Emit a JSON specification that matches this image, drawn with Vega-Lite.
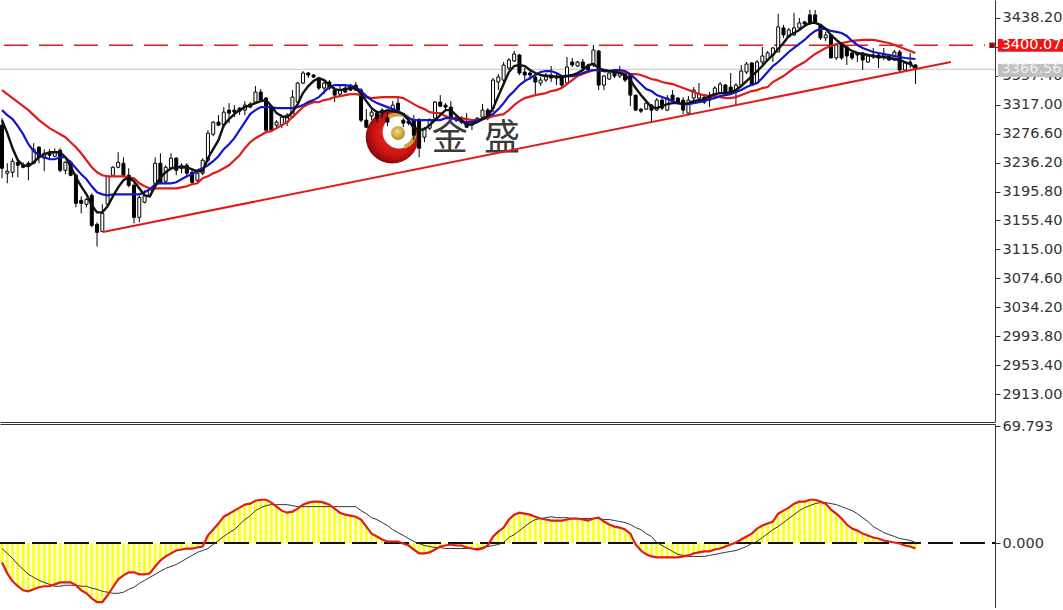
{"$schema":"https://vega.github.io/schema/vega-lite/v6.json","padding":{"left":-3,"top":0,"right":0,"bottom":0},"background":"white","spacing":2,"bounds":"flush","config":{"view":{"stroke":null},"axis":{"grid":false,"title":null,"labelFont":"DejaVu Sans","labelFontSize":14.5,"labelColor":"#333333","domainColor":"#333333","tickColor":"#333333","tickSize":5,"labelPadding":2,"labelOverlap":false,"labelBound":false,"labelFlush":false}},
"datasets":{"bars":[
{"i":0,"o":3288.5,"h":3298.3,"l":3214.3,"c":3228.3,"f":3295.5,"m":3309.5,"s":3337.5,"d":-11.6,"g":-3.3},
{"i":1,"o":3221.3,"h":3235.3,"l":3207.3,"c":3224.1,"f":3277.3,"m":3302.5,"s":3331.9,"d":-18.1,"g":-6.2},
{"i":2,"o":3222.7,"h":3242.3,"l":3215.7,"c":3238.1,"f":3256.3,"m":3296.9,"s":3326.3,"d":-22.9,"g":-9.2},
{"i":3,"o":3236.7,"h":3240.9,"l":3215.7,"c":3232.5,"f":3239.5,"m":3287.1,"s":3320.7,"d":-25.8,"g":-12.8},
{"i":4,"o":3232.5,"h":3236.7,"l":3228.3,"c":3229.7,"f":3232.5,"m":3275.9,"s":3315.1,"d":-28.2,"g":-15.7},
{"i":5,"o":3235.3,"h":3238.1,"l":3211.5,"c":3232.5,"f":3231.1,"m":3261.9,"s":3309.5,"d":-28.8,"g":-18.7},
{"i":6,"o":3235.3,"h":3263.3,"l":3233.9,"c":3254.9,"f":3236.7,"m":3252.1,"s":3302.5,"d":-27.6,"g":-20.5},
{"i":7,"o":3257.7,"h":3259.1,"l":3235.3,"c":3243.7,"f":3243.7,"m":3246.5,"s":3295.5,"d":-26.4,"g":-22.3},
{"i":8,"o":3242.3,"h":3254.9,"l":3224.1,"c":3249.3,"f":3247.9,"m":3243.7,"s":3289.9,"d":-25.8,"g":-23.5},
{"i":9,"o":3250.7,"h":3254.9,"l":3242.3,"c":3246.5,"f":3250.7,"m":3240.9,"s":3284.3,"d":-25.8,"g":-24.7},
{"i":10,"o":3245.1,"h":3256.3,"l":3243.7,"c":3250.7,"f":3250.7,"m":3240.9,"s":3280.1,"d":-24.7,"g":-25.8},
{"i":11,"o":3253.5,"h":3256.3,"l":3222.7,"c":3225.5,"f":3250.7,"m":3243.7,"s":3275.9,"d":-23.5,"g":-25.8},
{"i":12,"o":3225.5,"h":3238.1,"l":3219.9,"c":3236.7,"f":3243.7,"m":3243.7,"s":3271.7,"d":-23.5,"g":-25.2},
{"i":13,"o":3236.7,"h":3239.5,"l":3217.1,"c":3218.5,"f":3231.1,"m":3236.7,"s":3264.7,"d":-23.5,"g":-25.2},
{"i":14,"o":3218.5,"h":3221.3,"l":3173.7,"c":3179.3,"f":3215.7,"m":3228.3,"s":3257.7,"d":-25.2,"g":-25.2},
{"i":15,"o":3183.5,"h":3189.1,"l":3165.3,"c":3179.3,"f":3203.1,"m":3219.9,"s":3249.3,"d":-28.2,"g":-25.8},
{"i":16,"o":3177.9,"h":3186.3,"l":3173.7,"c":3184.9,"f":3191.9,"m":3212.9,"s":3239.5,"d":-30,"g":-25.8},
{"i":17,"o":3190.5,"h":3193.3,"l":3145.7,"c":3148.5,"f":3176.5,"m":3203.1,"s":3229.7,"d":-33,"g":-27},
{"i":18,"o":3149.9,"h":3152.7,"l":3119.1,"c":3138.7,"f":3166.7,"m":3194.7,"s":3222.7,"d":-35.3,"g":-27.6},
{"i":19,"o":3140.1,"h":3177.9,"l":3138.7,"c":3165.3,"f":3166.7,"m":3191.9,"s":3218.5,"d":-35.3,"g":-28.8},
{"i":20,"o":3177.9,"h":3217.1,"l":3176.5,"c":3217.1,"f":3175.1,"m":3190.5,"s":3217.1,"d":-31.2,"g":-29.4},
{"i":21,"o":3218.5,"h":3231.1,"l":3217.1,"c":3229.7,"f":3189.1,"m":3191.9,"s":3217.1,"d":-26.4,"g":-30},
{"i":22,"o":3229.7,"h":3250.7,"l":3228.3,"c":3236.7,"f":3201.7,"m":3191.9,"s":3217.1,"d":-21.7,"g":-30},
{"i":23,"o":3235.3,"h":3243.7,"l":3215.7,"c":3218.5,"f":3211.5,"m":3191.9,"s":3217.1,"d":-19.3,"g":-29.4},
{"i":24,"o":3218.5,"h":3228.3,"l":3201.7,"c":3204.5,"f":3215.7,"m":3191.9,"s":3215.7,"d":-17.5,"g":-27.6},
{"i":25,"o":3204.5,"h":3207.3,"l":3151.3,"c":3159.7,"f":3210.1,"m":3191.9,"s":3214.3,"d":-17.5,"g":-26.4},
{"i":26,"o":3159.7,"h":3190.5,"l":3152.7,"c":3187.7,"f":3200.3,"m":3191.9,"s":3207.3,"d":-18.7,"g":-24.1},
{"i":27,"o":3180.7,"h":3197.5,"l":3179.3,"c":3190.5,"f":3190.5,"m":3194.7,"s":3203.1,"d":-18.7,"g":-22.3},
{"i":28,"o":3190.5,"h":3201.7,"l":3189.1,"c":3198.9,"f":3189.1,"m":3198.9,"s":3200.3,"d":-18.1,"g":-20.5},
{"i":29,"o":3207.3,"h":3243.7,"l":3200.3,"c":3235.3,"f":3203.1,"m":3205.9,"s":3200.3,"d":-14,"g":-18.7},
{"i":30,"o":3235.3,"h":3249.3,"l":3205.9,"c":3208.7,"f":3215.7,"m":3207.3,"s":3200.3,"d":-10.4,"g":-16.9},
{"i":31,"o":3210.1,"h":3232.5,"l":3205.9,"c":3229.7,"f":3222.7,"m":3207.3,"s":3200.3,"d":-8,"g":-15.1},
{"i":32,"o":3228.3,"h":3249.3,"l":3225.5,"c":3242.3,"f":3228.3,"m":3207.3,"s":3200.3,"d":-6.2,"g":-14},
{"i":33,"o":3242.3,"h":3243.7,"l":3218.5,"c":3225.5,"f":3229.7,"m":3208.7,"s":3200.3,"d":-4.5,"g":-12.8},
{"i":34,"o":3228.3,"h":3235.3,"l":3221.3,"c":3232.5,"f":3229.7,"m":3212.9,"s":3201.7,"d":-3.9,"g":-11},
{"i":35,"o":3232.5,"h":3235.3,"l":3217.1,"c":3221.3,"f":3229.7,"m":3217.1,"s":3203.1,"d":-3.3,"g":-9.2},
{"i":36,"o":3222.7,"h":3225.5,"l":3205.9,"c":3208.7,"f":3226.9,"m":3219.9,"s":3205.9,"d":-3.3,"g":-7.4},
{"i":37,"o":3211.5,"h":3222.7,"l":3207.3,"c":3221.3,"f":3224.1,"m":3225.5,"s":3207.3,"d":-2.7,"g":-5.6},
{"i":38,"o":3221.3,"h":3242.3,"l":3218.5,"c":3239.5,"f":3224.1,"m":3228.3,"s":3214.3,"d":-2.1,"g":-4.5},
{"i":39,"o":3239.5,"h":3281.5,"l":3236.7,"c":3277.3,"f":3242.3,"m":3232.5,"s":3217.1,"d":4.5,"g":-3.3},
{"i":40,"o":3275.9,"h":3294.1,"l":3273.1,"c":3292.7,"f":3254.9,"m":3238.1,"s":3221.3,"d":8,"g":-0.9},
{"i":41,"o":3292.7,"h":3302.5,"l":3287.1,"c":3288.5,"f":3267.5,"m":3245.1,"s":3224.1,"d":11.6,"g":1.5},
{"i":42,"o":3288.5,"h":3313.7,"l":3284.3,"c":3306.7,"f":3288.5,"m":3254.9,"s":3228.3,"d":15.7,"g":3.9},
{"i":43,"o":3309.5,"h":3319.3,"l":3291.3,"c":3305.3,"f":3296.9,"m":3261.9,"s":3232.5,"d":17.5,"g":6.2},
{"i":44,"o":3309.5,"h":3316.5,"l":3299.7,"c":3306.7,"f":3303.9,"m":3270.3,"s":3239.5,"d":19.3,"g":8},
{"i":45,"o":3312.3,"h":3313.7,"l":3302.5,"c":3308.1,"f":3309.5,"m":3281.5,"s":3246.5,"d":21.1,"g":11},
{"i":46,"o":3309.5,"h":3322.1,"l":3302.5,"c":3316.5,"f":3313.7,"m":3292.7,"s":3256.3,"d":22.9,"g":14},
{"i":47,"o":3317.9,"h":3320.7,"l":3312.3,"c":3313.7,"f":3316.5,"m":3303.9,"s":3264.7,"d":23.5,"g":16.3},
{"i":48,"o":3320.7,"h":3343.1,"l":3319.3,"c":3334.7,"f":3319.3,"m":3309.5,"s":3270.3,"d":25.2,"g":19.3},
{"i":49,"o":3334.7,"h":3338.9,"l":3320.7,"c":3323.5,"f":3322.1,"m":3313.7,"s":3274.5,"d":25.8,"g":21.1},
{"i":50,"o":3326.3,"h":3327.7,"l":3280.1,"c":3281.5,"f":3323.5,"m":3313.7,"s":3278.7,"d":25.8,"g":22.3},
{"i":51,"o":3313.7,"h":3315.1,"l":3281.5,"c":3281.5,"f":3315.1,"m":3313.7,"s":3280.1,"d":24.1,"g":22.9},
{"i":52,"o":3288.5,"h":3295.5,"l":3285.7,"c":3292.7,"f":3305.3,"m":3312.3,"s":3284.3,"d":21.7,"g":22.9},
{"i":53,"o":3288.5,"h":3301.1,"l":3284.3,"c":3299.7,"f":3301.1,"m":3312.3,"s":3288.5,"d":19.3,"g":22.9},
{"i":54,"o":3292.7,"h":3305.3,"l":3287.1,"c":3302.5,"f":3299.7,"m":3312.3,"s":3292.7,"d":18.1,"g":22.9},
{"i":55,"o":3299.7,"h":3337.5,"l":3298.3,"c":3327.7,"f":3306.7,"m":3312.3,"s":3299.7,"d":18.7,"g":22.3},
{"i":56,"o":3320.7,"h":3348.7,"l":3319.3,"c":3347.3,"f":3317.9,"m":3313.7,"s":3306.7,"d":20.5,"g":21.7},
{"i":57,"o":3347.3,"h":3364.1,"l":3345.9,"c":3361.3,"f":3333.3,"m":3316.5,"s":3313.7,"d":22.9,"g":21.7},
{"i":58,"o":3361.3,"h":3362.7,"l":3354.3,"c":3358.5,"f":3343.1,"m":3320.7,"s":3317.9,"d":24.1,"g":21.7},
{"i":59,"o":3358.5,"h":3359.9,"l":3354.3,"c":3355.7,"f":3350.1,"m":3323.5,"s":3320.7,"d":24.7,"g":21.7},
{"i":60,"o":3354.3,"h":3355.7,"l":3337.5,"c":3340.3,"f":3354.3,"m":3327.7,"s":3320.7,"d":24.7,"g":21.7},
{"i":61,"o":3340.3,"h":3351.5,"l":3331.9,"c":3347.3,"f":3351.5,"m":3334.7,"s":3323.5,"d":24.1,"g":21.7},
{"i":62,"o":3348.7,"h":3351.5,"l":3337.5,"c":3340.3,"f":3344.5,"m":3341.7,"s":3324.9,"d":22.9,"g":21.7},
{"i":63,"o":3337.5,"h":3341.7,"l":3320.7,"c":3330.5,"f":3338.9,"m":3344.5,"s":3327.7,"d":20.5,"g":21.7},
{"i":64,"o":3331.9,"h":3343.1,"l":3329.1,"c":3337.5,"f":3337.5,"m":3344.5,"s":3329.1,"d":18.1,"g":21.7},
{"i":65,"o":3340.3,"h":3343.1,"l":3333.3,"c":3334.7,"f":3338.9,"m":3344.5,"s":3330.5,"d":16.9,"g":21.7},
{"i":66,"o":3344.5,"h":3345.9,"l":3336.1,"c":3337.5,"f":3340.3,"m":3343.1,"s":3331.9,"d":16.3,"g":21.7},
{"i":67,"o":3344.5,"h":3348.7,"l":3336.1,"c":3337.5,"f":3340.3,"m":3341.7,"s":3331.9,"d":15.7,"g":21.7},
{"i":68,"o":3337.5,"h":3340.3,"l":3292.7,"c":3295.5,"f":3331.9,"m":3336.1,"s":3330.5,"d":14,"g":19.3},
{"i":69,"o":3295.5,"h":3310.9,"l":3284.3,"c":3285.7,"f":3322.1,"m":3329.1,"s":3327.7,"d":9.8,"g":17.5},
{"i":70,"o":3301.1,"h":3310.9,"l":3295.5,"c":3306.7,"f":3312.3,"m":3323.5,"s":3326.3,"d":5.6,"g":15.1},
{"i":71,"o":3305.3,"h":3309.5,"l":3292.7,"c":3298.3,"f":3306.7,"m":3319.3,"s":3327,"d":3.9,"g":14},
{"i":72,"o":3309.5,"h":3312.3,"l":3298.3,"c":3305.3,"f":3306.7,"m":3316.5,"s":3327.7,"d":2.1,"g":12.2},
{"i":73,"o":3298.3,"h":3306.7,"l":3287.1,"c":3292.7,"f":3309.5,"m":3313.7,"s":3327.7,"d":0.9,"g":10.4},
{"i":74,"o":3310.9,"h":3322.1,"l":3306.7,"c":3316.5,"f":3308.1,"m":3310.9,"s":3327.7,"d":0.9,"g":8},
{"i":75,"o":3319.3,"h":3326.3,"l":3306.7,"c":3309.5,"f":3306.7,"m":3308.1,"s":3327.7,"d":0.9,"g":6.2},
{"i":76,"o":3295.5,"h":3298.3,"l":3285.7,"c":3291.3,"f":3303.9,"m":3303.9,"s":3326.3,"d":-0.3,"g":4.5},
{"i":77,"o":3294.1,"h":3295.5,"l":3288.5,"c":3291.3,"f":3295.5,"m":3298.3,"s":3322.1,"d":-1.5,"g":2.7},
{"i":78,"o":3295.5,"h":3302.5,"l":3267.5,"c":3274.5,"f":3284.3,"m":3295.5,"s":3317.9,"d":-3.9,"g":0.9},
{"i":79,"o":3295.5,"h":3298.3,"l":3243.7,"c":3256.3,"f":3281.5,"m":3295.5,"s":3313.7,"d":-6.2,"g":-0.3},
{"i":80,"o":3271.7,"h":3285.7,"l":3264.7,"c":3284.3,"f":3282.9,"m":3295.5,"s":3310.9,"d":-6.2,"g":-1.5},
{"i":81,"o":3284.3,"h":3298.3,"l":3281.5,"c":3295.5,"f":3288.5,"m":3295.5,"s":3306.7,"d":-5.6,"g":-2.1},
{"i":82,"o":3298.3,"h":3322.1,"l":3295.5,"c":3320.7,"f":3295.5,"m":3295.5,"s":3305.3,"d":-3.9,"g":-2.7},
{"i":83,"o":3320.7,"h":3330.5,"l":3313.7,"c":3315.1,"f":3302.5,"m":3295.5,"s":3305.3,"d":-2.1,"g":-2.7},
{"i":84,"o":3316.5,"h":3319.3,"l":3310.9,"c":3313.7,"f":3309.5,"m":3298.3,"s":3301.1,"d":-1.5,"g":-3.3},
{"i":85,"o":3313.7,"h":3322.1,"l":3296.9,"c":3299.7,"f":3309.5,"m":3298.3,"s":3298.3,"d":-0.9,"g":-3.3},
{"i":86,"o":3299.7,"h":3302.5,"l":3292.7,"c":3295.5,"f":3302.5,"m":3296.9,"s":3298.3,"d":-1.5,"g":-3.3},
{"i":87,"o":3292.7,"h":3301.1,"l":3289.9,"c":3298.3,"f":3295.5,"m":3294.1,"s":3298.3,"d":-1.5,"g":-3.3},
{"i":88,"o":3292.7,"h":3305.3,"l":3284.3,"c":3285.7,"f":3288.5,"m":3292.7,"s":3296.9,"d":-2.7,"g":-3.3},
{"i":89,"o":3288.5,"h":3295.5,"l":3281.5,"c":3292.7,"f":3289.9,"m":3292.7,"s":3295.5,"d":-3.3,"g":-3.3},
{"i":90,"o":3295.5,"h":3299.7,"l":3292.7,"c":3298.3,"f":3292.7,"m":3295.5,"s":3295.5,"d":-3.9,"g":-3.3},
{"i":91,"o":3299.7,"h":3317.9,"l":3295.5,"c":3309.5,"f":3296.9,"m":3296.9,"s":3296.9,"d":-3.3,"g":-2.7},
{"i":92,"o":3309.5,"h":3312.3,"l":3295.5,"c":3298.3,"f":3301.1,"m":3301.1,"s":3298.3,"d":-1.5,"g":-2.1},
{"i":93,"o":3312.3,"h":3354.3,"l":3306.7,"c":3351.5,"f":3312.3,"m":3303.9,"s":3301.1,"d":3.9,"g":-1.5},
{"i":94,"o":3348.7,"h":3359.9,"l":3337.5,"c":3355.7,"f":3329.1,"m":3310.9,"s":3302.5,"d":6.8,"g":-0.9},
{"i":95,"o":3351.5,"h":3376.7,"l":3348.7,"c":3372.5,"f":3345.9,"m":3319.3,"s":3303.9,"d":9.2,"g":0.3},
{"i":96,"o":3368.3,"h":3382.3,"l":3365.5,"c":3379.5,"f":3362.7,"m":3329.1,"s":3309.5,"d":14,"g":3.3},
{"i":97,"o":3378.1,"h":3392.1,"l":3376.7,"c":3387.9,"f":3371.1,"m":3336.1,"s":3316.5,"d":16.9,"g":5},
{"i":98,"o":3386.5,"h":3387.9,"l":3358.5,"c":3361.3,"f":3372.5,"m":3344.5,"s":3322.1,"d":18.1,"g":7.4},
{"i":99,"o":3362.7,"h":3368.3,"l":3348.7,"c":3358.5,"f":3371.1,"m":3350.1,"s":3326.3,"d":17.5,"g":9.8},
{"i":100,"o":3361.3,"h":3365.5,"l":3351.5,"c":3358.5,"f":3365.5,"m":3354.3,"s":3328.4,"d":16.9,"g":12.2},
{"i":101,"o":3355.7,"h":3361.3,"l":3330.5,"c":3348.7,"f":3361.3,"m":3358.5,"s":3330.5,"d":15.7,"g":14},
{"i":102,"o":3347.3,"h":3355.7,"l":3343.1,"c":3351.5,"f":3358.5,"m":3362.7,"s":3331.9,"d":14.6,"g":14.6},
{"i":103,"o":3351.5,"h":3361.3,"l":3348.7,"c":3358.5,"f":3357.1,"m":3364.1,"s":3333.3,"d":14,"g":15.1},
{"i":104,"o":3358.5,"h":3371.1,"l":3348.7,"c":3354.3,"f":3357.1,"m":3364.1,"s":3336.1,"d":13.4,"g":15.7},
{"i":105,"o":3354.3,"h":3362.7,"l":3344.5,"c":3357.1,"f":3355.7,"m":3361.3,"s":3337.5,"d":13.4,"g":15.1},
{"i":106,"o":3355.7,"h":3358.5,"l":3341.7,"c":3344.5,"f":3355.7,"m":3357.1,"s":3340.3,"d":13.4,"g":15.1},
{"i":107,"o":3347.3,"h":3383.7,"l":3344.5,"c":3369.7,"f":3357.1,"m":3357.1,"s":3345.9,"d":14,"g":15.1},
{"i":108,"o":3376.7,"h":3382.3,"l":3369.7,"c":3372.5,"f":3358.5,"m":3357.1,"s":3351.5,"d":14.6,"g":14.6},
{"i":109,"o":3371.1,"h":3378.1,"l":3369.7,"c":3376.7,"f":3361.3,"m":3358.5,"s":3357.1,"d":14.6,"g":14.6},
{"i":110,"o":3376.7,"h":3380.9,"l":3366.9,"c":3368.3,"f":3365.5,"m":3361.3,"s":3359.9,"d":14,"g":14.6},
{"i":111,"o":3371.1,"h":3373.9,"l":3361.3,"c":3365.5,"f":3372.5,"m":3364.1,"s":3362.7,"d":13.4,"g":14.6},
{"i":112,"o":3373.9,"h":3400.5,"l":3369.7,"c":3393.5,"f":3373.9,"m":3365.5,"s":3364.8,"d":14.6,"g":14.6},
{"i":113,"o":3392.1,"h":3393.5,"l":3337.5,"c":3344.5,"f":3368.3,"m":3365.5,"s":3365.5,"d":15.1,"g":14.6},
{"i":114,"o":3344.5,"h":3358.5,"l":3337.5,"c":3357.1,"f":3365.5,"m":3364.1,"s":3364.1,"d":12.8,"g":14},
{"i":115,"o":3352.9,"h":3364.1,"l":3351.5,"c":3361.3,"f":3364.1,"m":3364.1,"s":3364.1,"d":11,"g":14},
{"i":116,"o":3361.3,"h":3366.9,"l":3354.3,"c":3357.1,"f":3362.7,"m":3365.5,"s":3364.1,"d":9.8,"g":13.4},
{"i":117,"o":3357.1,"h":3371.1,"l":3354.3,"c":3362.7,"f":3361.3,"m":3365.5,"s":3363.4,"d":9.2,"g":12.8},
{"i":118,"o":3361.3,"h":3362.7,"l":3348.7,"c":3351.5,"f":3358.5,"m":3364.1,"s":3361.3,"d":8,"g":12.2},
{"i":119,"o":3358.5,"h":3358.5,"l":3315.1,"c":3330.5,"f":3351.5,"m":3359.9,"s":3359.9,"d":5.6,"g":11},
{"i":120,"o":3330.5,"h":3330.5,"l":3308.1,"c":3309.5,"f":3340.3,"m":3352.9,"s":3359.9,"d":-0.9,"g":9.2},
{"i":121,"o":3310.9,"h":3312.3,"l":3305.3,"c":3308.1,"f":3330.5,"m":3345.9,"s":3358.5,"d":-4.5,"g":8},
{"i":122,"o":3310.9,"h":3320.7,"l":3309.5,"c":3319.3,"f":3322.1,"m":3338.9,"s":3355.7,"d":-6.8,"g":5.6},
{"i":123,"o":3316.5,"h":3317.9,"l":3292.7,"c":3309.5,"f":3313.7,"m":3336.1,"s":3352.9,"d":-8,"g":3.9},
{"i":124,"o":3309.5,"h":3326.3,"l":3308.1,"c":3323.5,"f":3312.3,"m":3330.5,"s":3351.5,"d":-8.6,"g":0.3},
{"i":125,"o":3323.5,"h":3326.3,"l":3309.5,"c":3312.3,"f":3315.1,"m":3327.7,"s":3348.7,"d":-8.6,"g":-1.5},
{"i":126,"o":3309.5,"h":3330.5,"l":3308.1,"c":3326.3,"f":3317.9,"m":3324.9,"s":3347.3,"d":-8.6,"g":-3.3},
{"i":127,"o":3330.5,"h":3337.5,"l":3319.3,"c":3323.5,"f":3319.3,"m":3322.1,"s":3345.9,"d":-8.6,"g":-5},
{"i":128,"o":3326.3,"h":3327.7,"l":3317.9,"c":3319.3,"f":3319.3,"m":3319.3,"s":3343.1,"d":-8.6,"g":-6.8},
{"i":129,"o":3323.5,"h":3327.7,"l":3303.9,"c":3309.5,"f":3317.9,"m":3317.9,"s":3340.3,"d":-8,"g":-7.4},
{"i":130,"o":3305.3,"h":3329.1,"l":3302.5,"c":3323.5,"f":3319.3,"m":3317.9,"s":3337.5,"d":-7.4,"g":-8},
{"i":131,"o":3326.3,"h":3341.7,"l":3323.5,"c":3337.5,"f":3322.1,"m":3319.3,"s":3334.7,"d":-6.2,"g":-8},
{"i":132,"o":3326.3,"h":3347.3,"l":3320.7,"c":3331.9,"f":3323.5,"m":3320.7,"s":3331.9,"d":-5.6,"g":-8},
{"i":133,"o":3327.7,"h":3331.9,"l":3317.9,"c":3320.7,"f":3324.9,"m":3322.1,"s":3330.5,"d":-5,"g":-8},
{"i":134,"o":3327.7,"h":3334.7,"l":3313.7,"c":3323.5,"f":3329.1,"m":3324.9,"s":3329.1,"d":-5,"g":-7.4},
{"i":135,"o":3327.7,"h":3343.1,"l":3326.3,"c":3340.3,"f":3331.9,"m":3326.3,"s":3329.1,"d":-3.9,"g":-6.8},
{"i":136,"o":3333.3,"h":3348.7,"l":3331.9,"c":3345.9,"f":3333.3,"m":3329.1,"s":3327.7,"d":-3.3,"g":-6.2},
{"i":137,"o":3344.5,"h":3345.9,"l":3333.3,"c":3334.7,"f":3333.3,"m":3330.5,"s":3326.3,"d":-2.1,"g":-5.6},
{"i":138,"o":3341.7,"h":3361.3,"l":3331.9,"c":3333.3,"f":3334.7,"m":3331.9,"s":3326.3,"d":-0.9,"g":-5},
{"i":139,"o":3334.7,"h":3347.3,"l":3315.1,"c":3344.5,"f":3337.5,"m":3334.7,"s":3327.7,"d":0.3,"g":-4.5},
{"i":140,"o":3344.5,"h":3372.5,"l":3341.7,"c":3364.1,"f":3343.1,"m":3337.5,"s":3330.5,"d":2.1,"g":-3.3},
{"i":141,"o":3362.7,"h":3376.7,"l":3359.9,"c":3373.9,"f":3350.1,"m":3341.7,"s":3333.3,"d":3.9,"g":-2.1},
{"i":142,"o":3375.3,"h":3376.7,"l":3344.5,"c":3344.5,"f":3357.1,"m":3344.5,"s":3336.1,"d":5.6,"g":-0.3},
{"i":143,"o":3347.3,"h":3379.5,"l":3345.9,"c":3376.7,"f":3364.1,"m":3347.3,"s":3337.5,"d":8.6,"g":0.9},
{"i":144,"o":3376.7,"h":3397.7,"l":3372.5,"c":3385.1,"f":3371.1,"m":3354.3,"s":3340.3,"d":10.4,"g":3.3},
{"i":145,"o":3379.5,"h":3392.1,"l":3378.1,"c":3389.3,"f":3379.5,"m":3362.7,"s":3341.7,"d":11.6,"g":5.6},
{"i":146,"o":3386.5,"h":3397.7,"l":3376.7,"c":3396.3,"f":3386.5,"m":3371.1,"s":3348.7,"d":12.8,"g":8},
{"i":147,"o":3390.7,"h":3443.9,"l":3390.7,"c":3425.7,"f":3394.9,"m":3376.7,"s":3352.9,"d":17.5,"g":9.8},
{"i":148,"o":3424.3,"h":3428.5,"l":3410.3,"c":3414.5,"f":3403.3,"m":3383.7,"s":3357.1,"d":19.3,"g":12.2},
{"i":149,"o":3411.7,"h":3424.3,"l":3410.3,"c":3421.5,"f":3413.1,"m":3390.7,"s":3362.7,"d":21.1,"g":14.6},
{"i":150,"o":3414.5,"h":3445.3,"l":3413.1,"c":3424.3,"f":3417.3,"m":3396.3,"s":3368.3,"d":23.5,"g":16.9},
{"i":151,"o":3424.3,"h":3438.3,"l":3421.5,"c":3431.3,"f":3421.5,"m":3401.9,"s":3372.5,"d":24.7,"g":19.3},
{"i":152,"o":3432.7,"h":3434.1,"l":3425.7,"c":3429.9,"f":3427.1,"m":3407.5,"s":3376.7,"d":24.7,"g":21.1},
{"i":153,"o":3442.5,"h":3449.5,"l":3428.5,"c":3429.9,"f":3431.3,"m":3414.5,"s":3382.3,"d":25.8,"g":22.3},
{"i":154,"o":3442.5,"h":3449.5,"l":3429.9,"c":3431.3,"f":3431.3,"m":3420.1,"s":3387.9,"d":25.8,"g":23.5},
{"i":155,"o":3428.5,"h":3429.9,"l":3407.5,"c":3410.3,"f":3428.5,"m":3422.9,"s":3392.1,"d":24.7,"g":24.1},
{"i":156,"o":3410.3,"h":3418.7,"l":3406.1,"c":3414.5,"f":3422.9,"m":3422.9,"s":3396.3,"d":23.5,"g":24.1},
{"i":157,"o":3414.5,"h":3415.9,"l":3382.3,"c":3382.3,"f":3414.5,"m":3420.1,"s":3399.1,"d":19.9,"g":23.5},
{"i":158,"o":3382.3,"h":3401.9,"l":3379.5,"c":3400.5,"f":3407.5,"m":3418.7,"s":3401.9,"d":17.5,"g":22.9},
{"i":159,"o":3403.3,"h":3404.7,"l":3379.5,"c":3382.3,"f":3401.9,"m":3417.3,"s":3403.3,"d":14.6,"g":21.7},
{"i":160,"o":3397.7,"h":3399.1,"l":3372.5,"c":3385.1,"f":3396.3,"m":3413.1,"s":3404.7,"d":11,"g":20.5},
{"i":161,"o":3389.3,"h":3393.5,"l":3379.5,"c":3382.3,"f":3392.1,"m":3406.1,"s":3406.1,"d":8.6,"g":19.3},
{"i":162,"o":3389.3,"h":3390.7,"l":3376.7,"c":3386.5,"f":3389.3,"m":3400.5,"s":3406.8,"d":7.4,"g":17.5},
{"i":163,"o":3389.3,"h":3390.7,"l":3365.5,"c":3379.5,"f":3387.9,"m":3396.3,"s":3407.5,"d":5.6,"g":15.1},
{"i":164,"o":3376.7,"h":3387.9,"l":3375.3,"c":3385.1,"f":3386.5,"m":3393.5,"s":3407.5,"d":4.5,"g":12.8},
{"i":165,"o":3386.5,"h":3396.3,"l":3380.9,"c":3383.7,"f":3385.1,"m":3390.7,"s":3407.5,"d":3.3,"g":9.8},
{"i":166,"o":3386.5,"h":3389.3,"l":3368.3,"c":3382.3,"f":3383.7,"m":3389.3,"s":3406.1,"d":2.7,"g":8},
{"i":167,"o":3385.1,"h":3396.3,"l":3379.5,"c":3387.9,"f":3383.7,"m":3387.9,"s":3404.7,"d":1.5,"g":6.2},
{"i":168,"o":3386.5,"h":3387.9,"l":3378.1,"c":3379.5,"f":3382.3,"m":3386.5,"s":3403.3,"d":0.9,"g":5},
{"i":169,"o":3379.5,"h":3393.5,"l":3378.1,"c":3390.7,"f":3380.9,"m":3385.1,"s":3400.5,"d":0.3,"g":3.9},
{"i":170,"o":3390.7,"h":3393.5,"l":3364.1,"c":3365.5,"f":3379.5,"m":3383.7,"s":3397.7,"d":-0.3,"g":2.7},
{"i":171,"o":3365.5,"h":3376.7,"l":3364.1,"c":3375.3,"f":3376.7,"m":3382.3,"s":3394.9,"d":-1.5,"g":2.1},
{"i":172,"o":3376.7,"h":3389.3,"l":3368.3,"c":3373.9,"f":3373.9,"m":3381.6,"s":3392.1,"d":-2.1,"g":1.5},
{"i":173,"o":3372.5,"h":3373.9,"l":3345.9,"c":3366.56,"f":3368.3,"m":3380.9,"s":3389.3,"d":-3.3,"g":0.3}
],
"trend":[{"i":19.13,"p":3139.2},{"i":179.7,"p":3376.7}],
"tags":[{"label":"3400.07","p":3400.07,"top":3408.9,"bot":3391.0,"from":188.6,"to":201,"tx":189.3,"kind":"red"},{"label":"3366.56","p":3366.56,"top":3373.9,"bot":3355.7,"from":188.6,"to":201,"tx":189.3,"kind":"gray"}],
"marker":[{"i":187.5,"p":3400.07}],
"logoBall":[{"i":73.9,"p":3271.9}],
"logoHole":[{"i":75.2,"p":3279}],
"logoGold":[{"i":75,"p":3277.5}],
"logoArc":[{"i":75,"p":3280,"a":-0.6,"b":0.6},{"i":75,"p":3280,"a":1.7,"b":2.75}],
"brand":[{"t":"金","i":84.8,"p":3269},{"t":"盛","i":94.7,"p":3269}]
},
"vconcat":[
{"width":995,"height":422,
"encoding":{"x":{"field":"i","type":"quantitative","scale":{"domain":[-0.379,188.06],"nice":false,"zero":false,"padding":0},"axis":{"labels":false,"ticks":false,"domain":true,"orient":"bottom"}}},
"layer":[
{"data":{"name":"logoBall"},"mark":{"type":"point","filled":true,"shape":"circle","size":2809,"opacity":1,"fill":{"gradient":"radial","x1":0.55,"y1":0.45,"r1":0.1,"x2":0.55,"y2":0.45,"r2":0.62,"stops":[{"offset":0,"color":"#f02a2a"},{"offset":0.6,"color":"#c81212"},{"offset":1,"color":"#6e0505"}]}},"encoding":{"y":{"field":"p","type":"quantitative","scale":{"domain":[2873.9,3463.3],"nice":false,"zero":false},"axis":{"orient":"right","values":[3438.2,3397.8,3357.4,3317,3276.6,3236.2,3195.8,3155.4,3115,3074.6,3034.2,2993.8,2953.4,2913],"tickCount":30,"format":".2f","domain":true,"labelOverlap":false,"labelSeparation":0}}}},
{"data":{"name":"logoHole"},"mark":{"type":"point","filled":true,"shape":"circle","size":1089,"opacity":1,"color":"white"},"encoding":{"y":{"field":"p","type":"quantitative"}}},
{"data":{"name":"logoArc"},"mark":{"type":"arc","innerRadius":15,"outerRadius":19,"color":"#c8a63c"},"encoding":{"y":{"field":"p","type":"quantitative"},"theta":{"field":"a","type":"quantitative","scale":null,"stack":null},"theta2":{"field":"b"}}},
{"data":{"name":"logoGold"},"mark":{"type":"point","filled":true,"shape":"circle","size":196,"opacity":1,"fill":{"gradient":"radial","x1":0.45,"y1":0.4,"r1":0.05,"x2":0.45,"y2":0.4,"r2":0.65,"stops":[{"offset":0,"color":"#ecd877"},{"offset":1,"color":"#a88a1e"}]}},"encoding":{"y":{"field":"p","type":"quantitative"}}},
{"data":{"name":"brand"},"mark":{"type":"text","font":"Noto Sans CJK SC","fontSize":36,"color":"#3a3a3a","align":"center","baseline":"middle"},"encoding":{"y":{"field":"p","type":"quantitative"},"text":{"field":"t"}}},
{"data":{"name":"tags"},"transform":[{"filter":"datum.kind=='gray'"}],"mark":{"type":"rule","color":"#c4c4c4","strokeWidth":1},"encoding":{"x":{"value":0},"x2":{"value":995},"y":{"field":"p","type":"quantitative"}}},
{"data":{"name":"tags"},"transform":[{"filter":"datum.kind=='red'"}],"mark":{"type":"rule","color":"#d81e1e","strokeWidth":1.3,"strokeDash":[24,11]},"encoding":{"x":{"value":4},"x2":{"value":985},"y":{"field":"p","type":"quantitative"}}},
{"data":{"name":"bars"},"mark":{"type":"rule","color":"black","strokeWidth":1},"encoding":{"y":{"field":"l","type":"quantitative"},"y2":{"field":"h"}}},
{"data":{"name":"bars"},"mark":{"type":"bar","size":3,"stroke":"black","strokeWidth":1},"encoding":{"y":{"field":"o","type":"quantitative"},"y2":{"field":"c"},"fill":{"condition":{"test":"datum.c>datum.o","value":"white"},"value":"black"}}},
{"data":{"name":"bars"},"mark":{"type":"line","color":"#e01b1b","strokeWidth":2.2},"encoding":{"y":{"field":"s","type":"quantitative"}}},
{"data":{"name":"bars"},"mark":{"type":"line","color":"#1414c8","strokeWidth":2.2},"encoding":{"y":{"field":"m","type":"quantitative"}}},
{"data":{"name":"bars"},"mark":{"type":"line","color":"#111111","strokeWidth":2.4},"encoding":{"y":{"field":"f","type":"quantitative"}}},
{"data":{"name":"trend"},"mark":{"type":"line","color":"#e01b1b","strokeWidth":2},"encoding":{"y":{"field":"p","type":"quantitative"}}},
{"data":{"name":"marker"},"mark":{"type":"point","shape":"square","filled":true,"size":30,"opacity":1,"color":"#8c1010"},"encoding":{"y":{"field":"p","type":"quantitative"}}},
{"data":{"name":"tags"},"mark":{"type":"rect"},"encoding":{"x":{"field":"from","type":"quantitative"},"x2":{"field":"to"},"y":{"field":"top","type":"quantitative"},"y2":{"field":"bot"},"fill":{"field":"kind","type":"nominal","scale":{"domain":["red","gray"],"range":["#f01414","#c0c0c0"]},"legend":null}}},
{"data":{"name":"tags"},"mark":{"type":"text","align":"left","baseline":"middle","font":"DejaVu Sans","fontSize":14.5},"encoding":{"x":{"field":"tx","type":"quantitative"},"y":{"field":"p","type":"quantitative"},"text":{"field":"label"},"color":{"field":"kind","type":"nominal","scale":{"domain":["red","gray"],"range":["#ffffff","#eeeeee"]},"legend":null}}}
],"resolve":{"scale":{"color":"independent","fill":"independent"}}},
{"width":995,"height":184,"data":{"name":"bars"},
"encoding":{"x":{"field":"i","type":"quantitative","scale":{"domain":[-0.379,188.06],"nice":false,"zero":false,"padding":0},"axis":{"labels":false,"ticks":false,"domain":true,"orient":"top"}}},
"layer":[
{"mark":{"type":"bar","size":3,"color":"#ffff20"},"encoding":{"y":{"field":"d","type":"quantitative","scale":{"domain":[-38.78,71],"nice":false,"zero":false},"axis":{"orient":"right","values":[69.793,0],"format":".3f","domain":true,"labelOverlap":false}},"y2":{"datum":0}}},
{"mark":{"type":"rule","color":"#111111","strokeWidth":1,"strokeDash":[25,7]},"encoding":{"x":{"value":0},"x2":{"value":995},"y":{"datum":0}}},
{"mark":{"type":"line","color":"#333333","strokeWidth":1},"encoding":{"y":{"field":"g","type":"quantitative"}}},
{"mark":{"type":"line","color":"#e01b1b","strokeWidth":2.2},"encoding":{"y":{"field":"d","type":"quantitative"}}}
]}
]}
